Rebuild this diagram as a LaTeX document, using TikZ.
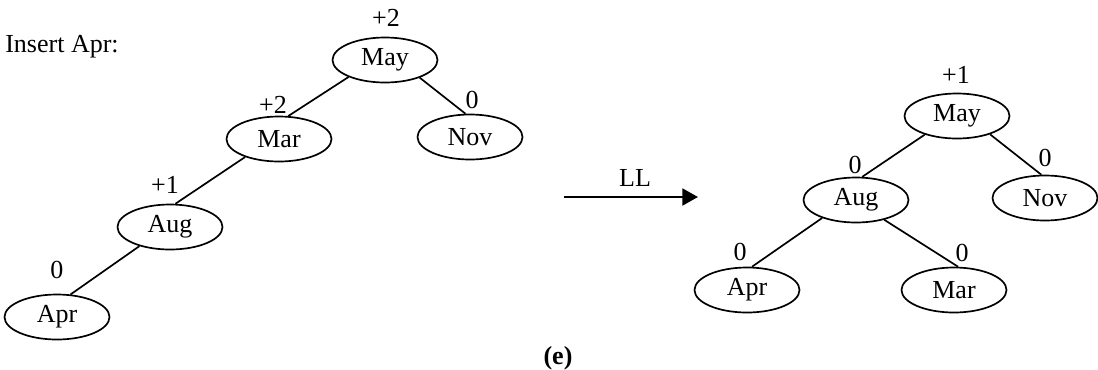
\documentclass[tikz,border=0pt]{standalone}
\usepackage{fontspec}
\setmainfont{Liberation Serif}
\usepackage{tikz}
\usetikzlibrary{arrows.meta, shapes.geometric}

\begin{document}
\begin{tikzpicture}[
  treenode/.style={draw, ellipse, line width=1.2pt, minimum width=2.625cm, minimum height=1.125cm, inner sep=0pt, font=\fontsize{18.5}{21}\selectfont},
  bal/.style={inner sep=0pt, font=\fontsize{18.5}{21}\selectfont},
  link/.style={line width=1.2pt},
  arr/.style={-{Triangle[length=3.9mm, width=4.2mm]}, line width=1.8pt}
]
  \useasboundingbox (0,0) rectangle (27.45,-9.225);

  \node[bal, anchor=base west] (title) at (0.125,-1.3) {Insert Apr:};

  % before rotation
  \node[treenode] (may1) at (9.625,-1.5) {May};
  \node[treenode] (mar1) at (6.975,-3.475) {Mar};
  \node[treenode] (nov1) at (11.75,-3.425) {Nov};
  \node[treenode] (aug1) at (4.25,-5.675) {Aug};
  \node[treenode] (apr1) at (1.425,-7.925) {Apr};

  \node[bal] (bmay1) at (9.65,-0.45) {+2};
  \node[bal] (bmar1) at (6.825,-2.625) {+2};
  \node[bal] (bnov1) at (11.8,-2.5) {0};
  \node[bal] (baug1) at (4.125,-4.625) {+1};
  \node[bal] (bapr1) at (1.425,-6.75) {0};

  \draw[link] (may1.205) -- (mar1.68);
  \draw[link] (may1.333) -- (nov1.101);
  \draw[link] (mar1.208) -- (aug1.77);
  \draw[link] (aug1.212) -- (apr1.59);

  % rotation arrow
  \coordinate (llfrom) at (14.1,-4.925);
  \coordinate (llto) at (17.45,-4.925);
  \draw[arr] (llfrom) -- (llto);
  \node[bal] (ll) at (15.875,-4.45) {LL};

  % after rotation
  \node[treenode] (may2) at (23.925,-2.9) {May};
  \node[treenode] (aug2) at (21.4,-5.0) {Aug};
  \node[treenode] (nov2) at (26.125,-4.95) {Nov};
  \node[treenode] (apr2) at (18.675,-7.25) {Apr};
  \node[treenode] (mar2) at (23.85,-7.25) {Mar};

  \node[bal] (bmay2) at (23.9,-1.875) {+1};
  \node[bal] (baug2) at (21.375,-4.125) {0};
  \node[bal] (bnov2) at (26.125,-3.95) {0};
  \node[bal] (bapr2) at (18.5,-6.3) {0};
  \node[bal] (bmar2) at (24.05,-6.325) {0};

  \draw[link] (may2.210) -- (aug2.75);
  \draw[link] (may2.331) -- (nov2.99);
  \draw[link] (aug2.208) -- (apr2.78);
  \draw[link] (aug2.325) -- (mar2.80);

  \node[bal, font=\fontsize{18.5}{21}\selectfont\bfseries] (caption) at (13.95,-8.95) {(e)};
\end{tikzpicture}
\end{document}
